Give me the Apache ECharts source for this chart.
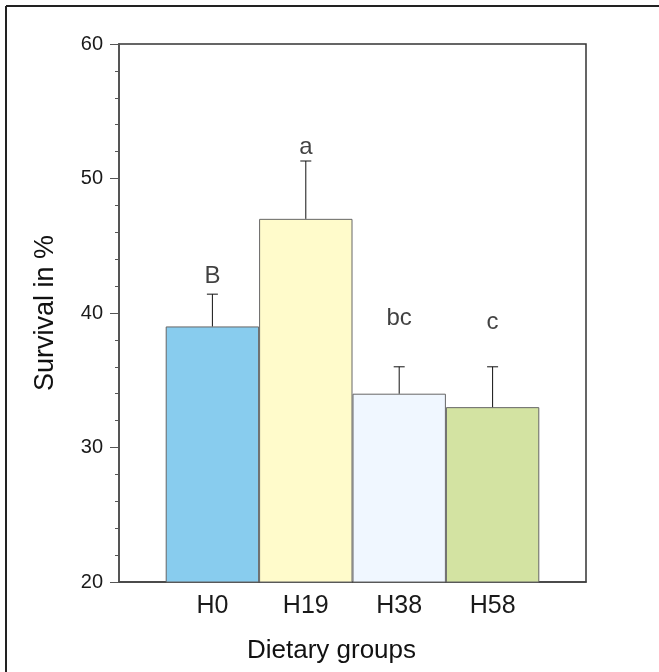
<!DOCTYPE html>
<html>
<head>
<meta charset="utf-8">
<script src="https://cdn.jsdelivr.net/npm/echarts@6/dist/echarts.min.js"></script>
<style>
  html, body { margin: 0; padding: 0; background: #fff; }
  #chart { width: 659px; height: 672px; }
</style>
</head>
<body>
<div id="chart"></div>
<script>
// data
const groups = ['H0', 'H19', 'H38', 'H58'];
const survival = [39, 47, 34, 33];
const errTop = [41.4, 51.3, 36.0, 36.0];
const letters = ['B', 'a', 'bc', 'c'];
const letterAt = [42.7, 52.3, 39.6, 39.3];
const barColors = ['#88CCEE', '#FFFBCB', '#F0F7FF', '#D3E3A2'];
const yTicks = [20, 30, 40, 50, 60];

const chart = echarts.init(document.getElementById('chart'));

const font = 'Liberation Sans, Arial, sans-serif';

const option = {
  animation: false,
  graphic: [
    // outer frame (only left and top edges are visible)
    { type: 'line', shape: { x1: 6, y1: 6, x2: 6, y2: 672 }, style: { stroke: '#222', lineWidth: 2 } },
    { type: 'line', shape: { x1: 6, y1: 6, x2: 659, y2: 6 }, style: { stroke: '#222', lineWidth: 2 } }
  ],
  grid: { left: 119, right: 73, top: 44, bottom: 90, show: true, borderColor: '#333', borderWidth: 1.5 },
  xAxis: {
    type: 'value',
    min: 0,
    max: groups.length + 1,
    interval: 1,
    splitLine: { show: false },
    axisTick: { show: false },
    axisLine: { lineStyle: { color: '#444', width: 1.5 } },
    axisLabel: {
      fontFamily: font, fontSize: 25, color: '#1a1a1a', margin: 12,
      formatter: v => groups[v - 1] || ''
    },
    name: 'Dietary groups',
    nameLocation: 'middle',
    nameGap: 56,
    nameTextStyle: { fontFamily: font, fontSize: 26, color: '#111', padding: [0, 42, 0, 0] }
  },
  yAxis: {
    type: 'value',
    min: yTicks[0],
    max: yTicks[yTicks.length - 1],
    interval: 10,
    splitLine: { show: false },
    axisLine: { show: true, lineStyle: { color: '#555', width: 2 } },
    axisTick: { show: true, length: 9, lineStyle: { color: '#555' } },
    minorTick: { show: true, splitNumber: 5, length: 4, lineStyle: { color: '#555' } },
    axisLabel: { fontFamily: font, fontSize: 20, color: '#1a1a1a', margin: 16 },
    name: 'Survival in %',
    nameLocation: 'middle',
    nameGap: 60,
    nameRotate: 90,
    nameTextStyle: { fontFamily: font, fontSize: 27, color: '#111' }
  },
  series: [
    {
      type: 'bar',
      barWidth: 93.4,
      data: groups.map((g, i) => ({
        value: [i + 1, survival[i]],
        itemStyle: { color: barColors[i], borderColor: '#666', borderWidth: 1 }
      }))
    },
    {
      type: 'custom',
      data: groups.map((g, i) => [i + 1, survival[i], errTop[i]]),
      renderItem: function (params, api) {
        const base = api.coord([api.value(0), api.value(1)]);
        const top = api.coord([api.value(0), api.value(2)]);
        const half = 5.5;
        return {
          type: 'group',
          children: [
            { type: 'line', shape: { x1: base[0], y1: base[1], x2: top[0], y2: top[1] }, style: { stroke: '#111', lineWidth: 1 } },
            { type: 'line', shape: { x1: top[0] - half, y1: top[1], x2: top[0] + half, y2: top[1] }, style: { stroke: '#111', lineWidth: 1 } }
          ]
        };
      },
      z: 3
    },
    {
      type: 'scatter',
      symbolSize: 0,
      data: groups.map((g, i) => [i + 1, letterAt[i]]),
      label: {
        show: true,
        position: 'inside',
        fontFamily: font,
        fontSize: 24,
        color: '#111',
        formatter: p => letters[p.dataIndex]
      },
      z: 4
    }
  ]
};

chart.setOption(option);
</script>
</body>
</html>
